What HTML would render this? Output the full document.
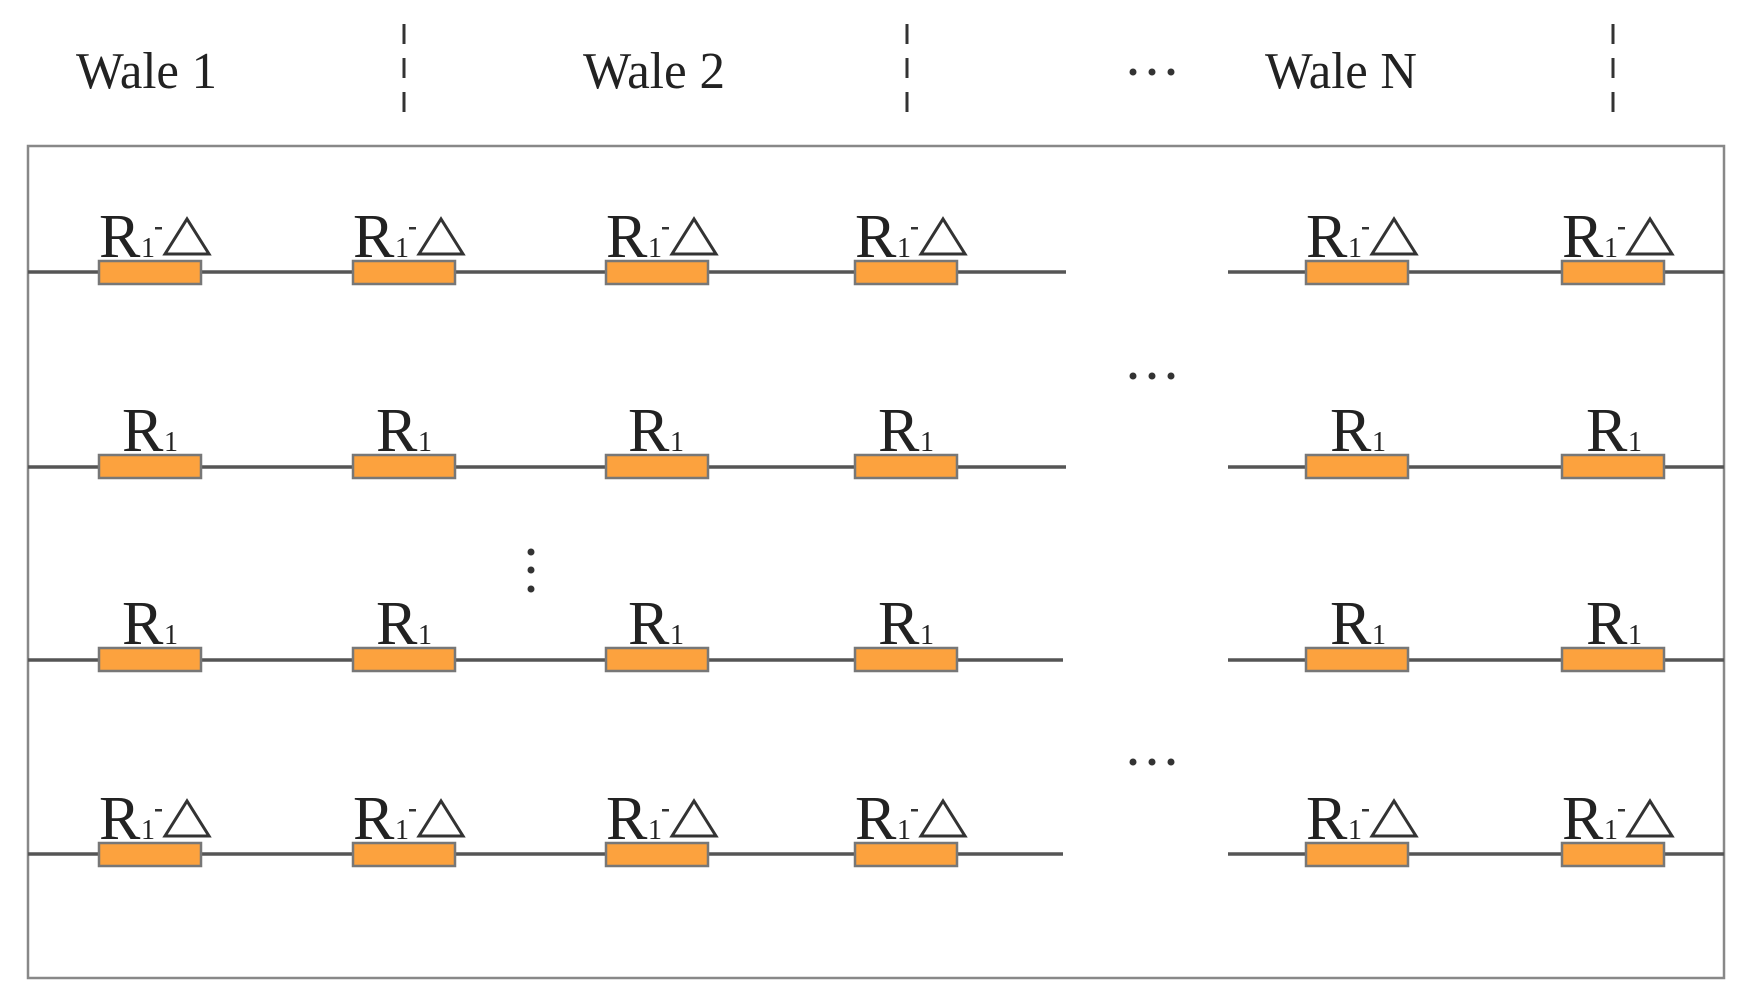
<!DOCTYPE html>
<html><head><meta charset="utf-8"><style>html,body{margin:0;padding:0;background:#fff}svg{display:block}text{font-family:"Liberation Serif","DejaVu Serif",serif}</style></head>
<body>
<svg width="1742" height="1000" viewBox="0 0 1742 1000" xmlns="http://www.w3.org/2000/svg">
<rect x="0" y="0" width="1742" height="1000" fill="#fff"/>
<g fill="#222" font-size="52">
<text x="76" y="88" textLength="141" lengthAdjust="spacingAndGlyphs">Wale 1</text>
<text x="583" y="88" textLength="142" lengthAdjust="spacingAndGlyphs">Wale 2</text>
<text x="1265" y="88" textLength="152" lengthAdjust="spacingAndGlyphs">Wale N</text>
</g>
<g stroke="#333" stroke-width="3" stroke-dasharray="20,14">
<line x1="404" y1="24" x2="404" y2="114"/>
<line x1="907" y1="24" x2="907" y2="114"/>
<line x1="1613" y1="24" x2="1613" y2="114"/>
</g>
<g fill="#333">
<circle cx="1133" cy="72" r="3.5"/><circle cx="1152" cy="72" r="3.5"/><circle cx="1171" cy="72" r="3.5"/>
<circle cx="1133" cy="376" r="3.5"/><circle cx="1152" cy="376" r="3.5"/><circle cx="1171" cy="376" r="3.5"/>
<circle cx="1133" cy="762" r="3.5"/><circle cx="1152" cy="762" r="3.5"/><circle cx="1171" cy="762" r="3.5"/>
<circle cx="531" cy="552" r="3.5"/><circle cx="531" cy="570" r="3.5"/><circle cx="531" cy="589" r="3.5"/>
</g>
<rect x="28" y="146" width="1696" height="832" fill="none" stroke="#888" stroke-width="2.5"/>
<g stroke="#555" stroke-width="3.5">
<line x1="28" y1="272" x2="1066" y2="272"/><line x1="1228" y1="272" x2="1724" y2="272"/>
<line x1="28" y1="467" x2="1066" y2="467"/><line x1="1228" y1="467" x2="1724" y2="467"/>
<line x1="28" y1="660" x2="1063" y2="660"/><line x1="1228" y1="660" x2="1724" y2="660"/>
<line x1="28" y1="854" x2="1063" y2="854"/><line x1="1228" y1="854" x2="1724" y2="854"/>
</g>
<g fill="#fca23e" stroke="#777" stroke-width="2.5">
<rect x="99" y="261" width="102" height="23"/><rect x="353" y="261" width="102" height="23"/><rect x="606" y="261" width="102" height="23"/><rect x="855" y="261" width="102" height="23"/><rect x="1306" y="261" width="102" height="23"/><rect x="1562" y="261" width="102" height="23"/>
<rect x="99" y="455" width="102" height="23"/><rect x="353" y="455" width="102" height="23"/><rect x="606" y="455" width="102" height="23"/><rect x="855" y="455" width="102" height="23"/><rect x="1306" y="455" width="102" height="23"/><rect x="1562" y="455" width="102" height="23"/>
<rect x="99" y="648" width="102" height="23"/><rect x="353" y="648" width="102" height="23"/><rect x="606" y="648" width="102" height="23"/><rect x="855" y="648" width="102" height="23"/><rect x="1306" y="648" width="102" height="23"/><rect x="1562" y="648" width="102" height="23"/>
<rect x="99" y="843" width="102" height="23"/><rect x="353" y="843" width="102" height="23"/><rect x="606" y="843" width="102" height="23"/><rect x="855" y="843" width="102" height="23"/><rect x="1306" y="843" width="102" height="23"/><rect x="1562" y="843" width="102" height="23"/>
</g>
<defs>
<g id="rdl">
<text x="0" y="0" font-size="62" fill="#222">R</text>
<text x="42" y="0" font-size="28" fill="#222">1</text>
<rect x="56" y="-30" width="7" height="2.5" fill="#333"/>
<polygon points="66,-3 88,-38 110,-3" fill="none" stroke="#333" stroke-width="3"/>
</g>
<g id="r1">
<text x="0" y="0" font-size="62" fill="#222">R</text>
<text x="42" y="0" font-size="28" fill="#222">1</text>
</g>
</defs>
<use href="#rdl" x="99" y="257"/><use href="#rdl" x="353" y="257"/><use href="#rdl" x="606" y="257"/><use href="#rdl" x="855" y="257"/><use href="#rdl" x="1306" y="257"/><use href="#rdl" x="1562" y="257"/>
<use href="#r1" x="122" y="451"/><use href="#r1" x="376" y="451"/><use href="#r1" x="628" y="451"/><use href="#r1" x="878" y="451"/><use href="#r1" x="1330" y="451"/><use href="#r1" x="1586" y="451"/>
<use href="#r1" x="122" y="644"/><use href="#r1" x="376" y="644"/><use href="#r1" x="628" y="644"/><use href="#r1" x="878" y="644"/><use href="#r1" x="1330" y="644"/><use href="#r1" x="1586" y="644"/>
<use href="#rdl" x="99" y="839"/><use href="#rdl" x="353" y="839"/><use href="#rdl" x="606" y="839"/><use href="#rdl" x="855" y="839"/><use href="#rdl" x="1306" y="839"/><use href="#rdl" x="1562" y="839"/>
</svg>
</body></html>
